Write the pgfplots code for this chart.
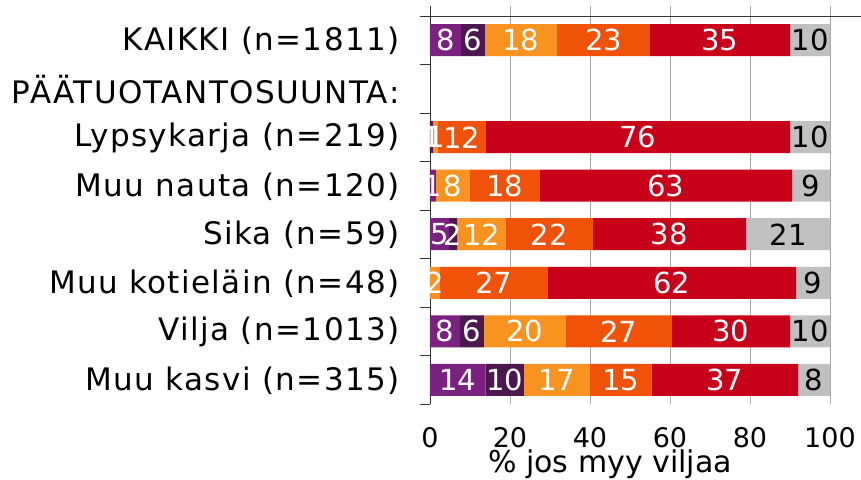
\documentclass[border=0pt]{standalone}
\usepackage{pgfplots}
\usepackage{pgfplotstable}
\pgfplotsset{compat=1.18}
\usepackage{fontspec}
\setmainfont{DejaVu Sans}
\newfontfamily\labfont[LetterSpace=4.5]{DejaVu Sans}
\definecolor{cP}{HTML}{7B2180}
\definecolor{cDP}{HTML}{4B1850}
\definecolor{cO}{HTML}{F7931E}
\definecolor{cDO}{HTML}{F0520A}
\definecolor{cR}{HTML}{C8001A}
\definecolor{cG}{HTML}{C0C0C0}

\pgfplotstableread{
row purple dpurple orange dorange red gray
0 7.75 6 18 23.25 35 10
1 0 0 0 0 0 0
2 0 0.75 1.25 12 76 10
3 1.5 0 8.5 17.5 63 9.5
4 4.8 2 12.2 21.7 38.3 21
5 0 0 2.5 27 62 8.5
6 7.5 6 20.5 26.5 29.5 10
7 13.9 9.6 16.5 15.4 36.6 8
}\datatable

\pgfplotstableread{
x y lab
3.875 0 8
10.75 0 6
22.75 0 18
43.375 0 23
72.5 0 35
0.375 2 1
1.375 2 1
8 2 12
52 2 76
0.75 3 1
5.75 3 8
18.75 3 18
59 3 63
2.4 4 5
5.8 4 2
12.9 4 12
29.85 4 22
59.85 4 38
1.25 5 2
16 5 27
60.5 5 62
3.75 6 8
10.5 6 6
23.75 6 20
47.25 6 27
75.25 6 30
6.95 7 14
18.7 7 10
31.75 7 17
47.7 7 15
73.7 7 37
}\whitelabels

\pgfplotstableread{
x y lab
95 0 10
95 2 10
95.25 3 9
89.5 4 21
95.75 5 9
95 6 10
96 7 8
}\blacklabels

\pgfplotsset{common/.style={
  scale only axis, width=400pt, height=398pt,
  y dir=reverse, clip=false,
  xmin=0, xmax=100, ymin=-0.706, ymax=7.5,
}}

\begin{document}
\begin{tikzpicture}
\begin{axis}[
  common,
  xbar stacked, bar width=32pt,
  axis y line*=left, axis x line*=bottom,
  x axis line style={draw=none},
  y axis line style={draw=black!80, line width=0.8pt},
  xtick={0,20,...,100},
  xmajorgrids, grid style={black!35, line width=0.8pt},
  ytick={0,...,7},
  yticklabels={KAIKKI (n=1811), PÄÄTUOTANTOSUUNTA:, Lypsykarja (n=219), Muu nauta (n=120), Sika (n=59), Muu kotieläin (n=48), Vilja (n=1013), Muu kasvi (n=315)},
  minor ytick={-0.5,0.5,...,7.5},
  tick align=outside,
  major tick length=0pt, minor tick length=10pt,
  minor tick style={draw=black!80, line width=0.8pt},
  /pgf/number format/assume math mode=true,
  yticklabel style={font=\labfont\fontsize{31}{33}\selectfont, xshift=-27pt, yshift=-1pt},
  xticklabel style={font=\fontsize{27}{29}\selectfont, yshift=-20pt},
  xlabel={\% jos myy viljaa},
  xlabel style={at={(axis cs:45,7.5)}, anchor=base, yshift=-68pt, font=\fontsize{30}{32}\selectfont},
]
\addplot[fill=cP, draw=none] table[x=purple, y=row] {\datatable};
\addplot[fill=cDP, draw=none] table[x=dpurple, y=row] {\datatable};
\addplot[fill=cO, draw=none] table[x=orange, y=row] {\datatable};
\addplot[fill=cDO, draw=none] table[x=dorange, y=row] {\datatable};
\addplot[fill=cR, draw=none] table[x=red, y=row] {\datatable};
\addplot[fill=cG, draw=none] table[x=gray, y=row] {\datatable};

\draw[black!80, line width=0.8pt] ([xshift=-10pt]axis cs:0,-0.5) -- ([xshift=31pt]axis cs:100,-0.5);
\coordinate (TL) at (axis cs:0,-0.706);
\coordinate (BR) at (axis cs:100,7.5);
\end{axis}
\begin{axis}[common, hide axis]
\addplot[draw=none, mark=none,
  nodes near coords, point meta=explicit symbolic,
  every node near coord/.append style={anchor=center, text=white, font=\fontsize{29}{31}\selectfont, inner sep=0pt}]
  table[x=x, y=y, meta=lab] {\whitelabels};
\addplot[draw=none, mark=none,
  nodes near coords, point meta=explicit symbolic,
  every node near coord/.append style={anchor=center, text=black, font=\fontsize{29}{31}\selectfont, inner sep=0pt}]
  table[x=x, y=y, meta=lab] {\blacklabels};
\end{axis}
\pgfresetboundingbox
\path[use as bounding box] ([xshift=-430pt,yshift=6pt]TL) rectangle ([xshift=31pt,yshift=-75pt]BR);
\end{tikzpicture}
\end{document}
